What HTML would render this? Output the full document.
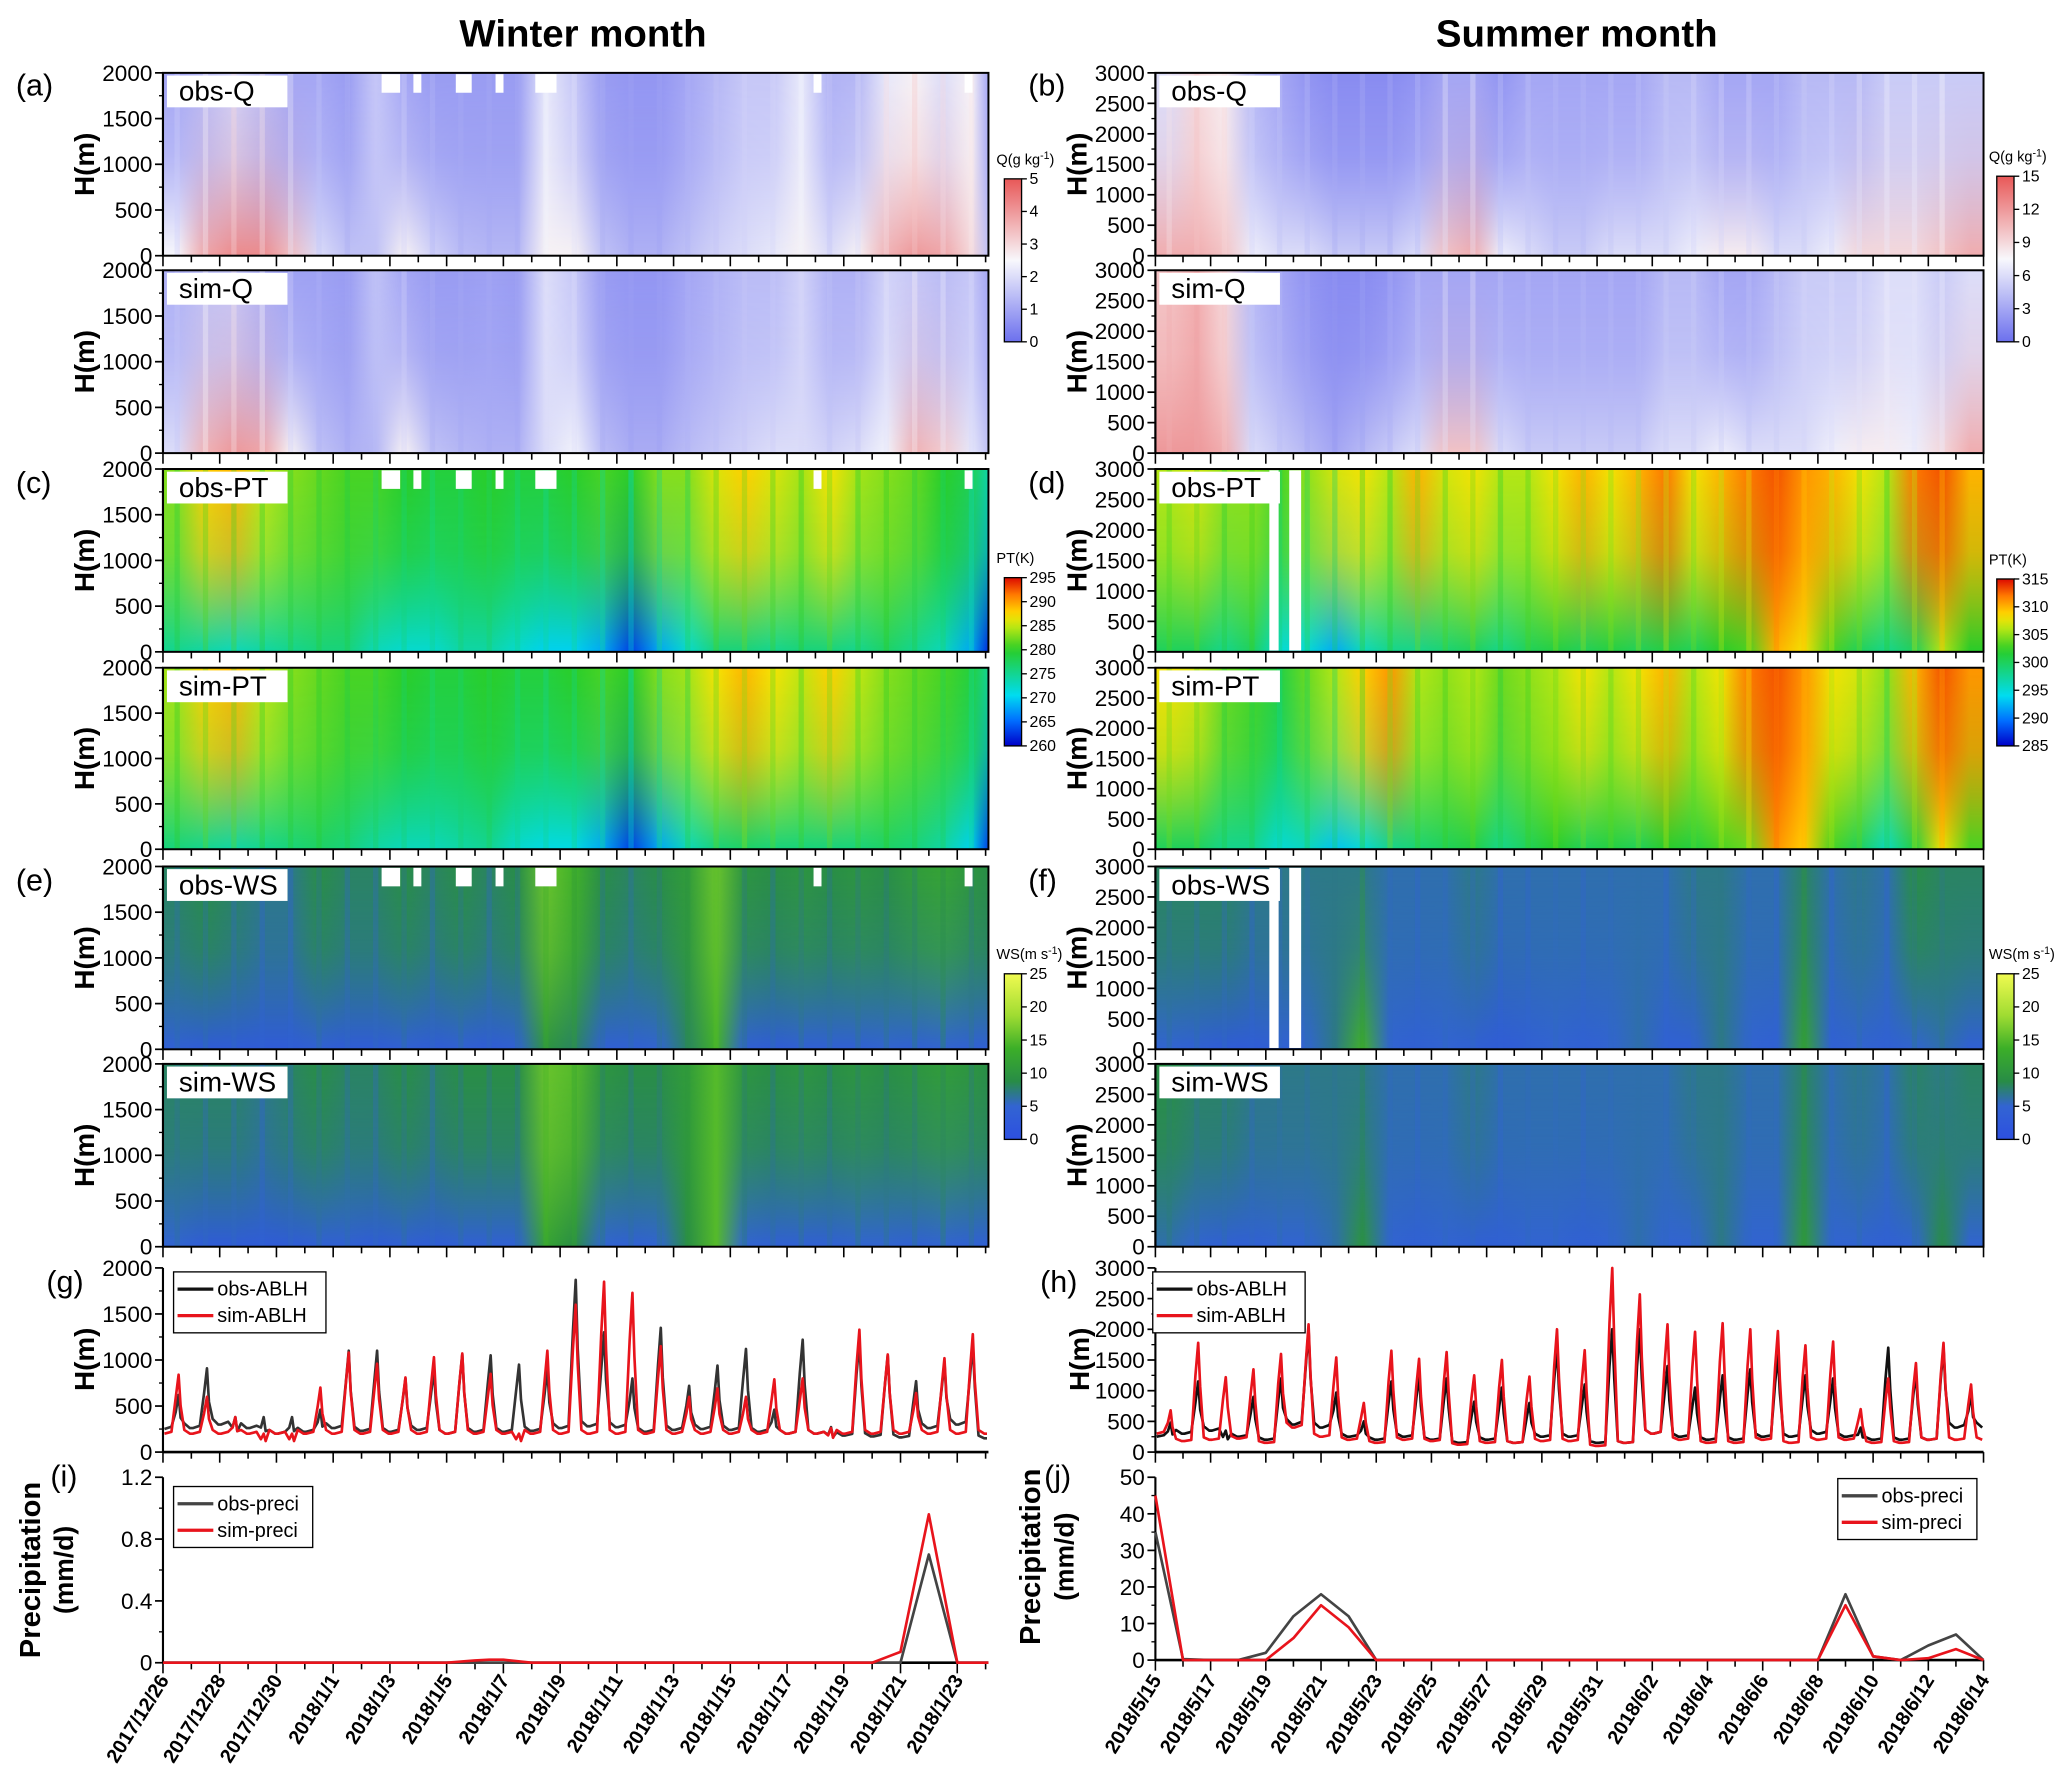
<!DOCTYPE html>
<html><head><meta charset="utf-8"><style>
html,body{margin:0;padding:0;background:#fff}
svg{display:block}
text{font-family:"Liberation Sans",sans-serif}
</style></head><body>
<svg id="fig" width="2067" height="1778" viewBox="0 0 1560 1342" preserveAspectRatio="none" xmlns="http://www.w3.org/2000/svg">
<defs id="defs"></defs>
<text x="440" y="35" text-anchor="middle" font-size="29" font-weight="bold">Winter month</text>
<text x="1190" y="35" text-anchor="middle" font-size="29" font-weight="bold">Summer month</text>
<g id="root"></g>
</svg>
<script>
// ---------- data ----------
const winterDateLabels = ["2017/12/26","2017/12/28","2017/12/30","2018/1/1","2018/1/3","2018/1/5","2018/1/7","2018/1/9","2018/1/11","2018/1/13","2018/1/15","2018/1/17","2018/1/19","2018/1/21","2018/1/23"];
const summerDateLabels = ["2018/5/15","2018/5/17","2018/5/19","2018/5/21","2018/5/23","2018/5/25","2018/5/27","2018/5/29","2018/5/31","2018/6/2","2018/6/4","2018/6/6","2018/6/8","2018/6/10","2018/6/12","2018/6/14"];
// heatmap column values per day (bottom / top of profile)
const wObsQBot=[2.5,3.8,4.2,4.2,3.4,2.0,1.5,1.5,2.6,1.8,1.4,1.3,1.3,2.6,2.6,1.5,1.2,1.2,1.5,1.8,2.0,2.2,2.6,2.0,2.6,3.6,4.0,3.8,3.0,1.5];
const wObsQTop=[1.0,1.4,1.8,1.4,1.0,1.0,0.8,1.6,1.0,0.8,0.8,0.8,0.8,2.2,1.6,0.8,0.7,0.7,1.0,1.3,1.6,1.6,2.2,1.2,1.3,2.2,2.6,2.0,2.6,1.0];
const wSimQBot=[2.0,3.6,4.0,3.8,2.6,1.5,1.2,1.3,2.6,1.5,1.3,1.2,1.2,2.0,2.4,1.4,1.1,1.1,1.4,1.6,1.8,2.0,2.0,1.8,2.0,2.4,3.6,3.2,2.2,1.5];
const wSimQTop=[1.2,1.5,1.6,1.2,0.9,0.9,0.8,1.5,1.0,0.8,0.8,0.9,0.8,2.0,1.6,0.8,0.7,0.7,1.0,1.2,1.4,1.4,1.8,1.2,1.2,1.8,1.6,1.4,1.6,1.0];
const sObsQBot=[11,11,10,7,6,6,5,5,5,6,10,11,7,6,5,5,6,6,6,7,8,8,6,6,7,9,9,9,10,11];
const sObsQTop=[6,9,8,4,3,2,1.5,1.5,1.5,2,3,3,2,3,3,3,3,3,4,4,3,3,3,4,4,4,5,5,5,5];
const sSimQBot=[12,12,11,6,5,4,3,4,5,6,10,10,6,5,5,5,5,5,6,6,7,6,6,6,7,8,8,7,9,11];
const sSimQTop=[10,11,9,4,3,2,1.5,1.5,2,3,3,3,3,3,3,3,3,3,4,4,3,3,4,5,5,5,6,6,5,6];
const wObsPTBot=[275,274,273,274,275,276,276,273,272,272,274,274,272,270,270,268,263,268,272,276,276,275,276,276,275,277,275,273,268,262];
const wObsPTTop=[283,288,289,285,283,282,281,281,280,279,279,280,279,279,280,281,280,283,283,286,288,286,284,287,284,283,282,280,278,274];
const wSimPTBot=[276,275,274,275,276,277,276,274,273,273,274,275,272,271,271,268,263,268,273,276,277,276,276,276,276,277,276,274,270,263];
const wSimPTTop=[284,288,289,285,283,282,281,281,280,279,279,280,279,279,280,281,280,283,284,287,289,287,285,288,285,283,282,281,279,275];
const sObsPTBot=[300,300,298,300,295,295,292,296,298,298,299,300,298,300,301,300,301,300,301,300,302,303,310,308,303,300,298,300,306,302];
const sObsPTTop=[306,307,305,305,303,305,307,308,306,310,307,308,306,306,308,310,308,310,312,308,310,312,313,311,310,308,306,312,313,310];
const sSimPTBot=[300,300,298,298,295,296,293,295,298,299,300,301,298,300,302,300,301,300,302,301,303,304,311,309,303,300,296,301,308,303];
const sSimPTTop=[308,307,304,303,301,304,306,309,311,306,305,306,304,305,306,308,306,308,310,306,308,312,313,311,308,307,305,310,313,311];
const wObsWSBot=[4,3,3,3,3,4,3,3,4,3,4,3,4,10,8,4,4,5,8,14,4,3,4,4,4,5,4,5,4,4];
const wObsWSTop=[8,9,8,7,7,9,8,8,9,8,9,8,9,16,14,9,8,9,11,16,10,9,10,9,10,9,11,12,10,9];
const wSimWSBot=[5,3,3,3,3,4,4,3,4,3,4,4,4,12,9,5,4,5,9,15,5,4,4,4,5,5,4,5,4,4];
const wSimWSTop=[8,8,8,7,8,9,8,8,9,8,9,9,9,16,15,10,9,9,11,15,10,9,10,9,10,9,10,11,10,9];
const sObsWSBot=[5,4,3,3,4,5,7,14,5,4,5,4,3,4,5,4,5,6,4,4,7,5,4,12,4,5,4,5,6,4];
const sObsWSTop=[8,8,8,7,7,7,7,7,6,6,6,7,6,6,6,6,6,6,6,7,7,6,6,8,6,7,6,9,8,8];
const sSimWSBot=[6,5,4,4,5,5,6,10,5,4,5,4,4,5,5,4,5,6,5,5,7,5,5,11,5,5,4,5,9,5];
const sSimWSTop=[9,8,8,7,7,7,7,7,6,6,6,7,6,6,6,6,6,6,6,7,7,6,6,8,6,7,6,8,7,8];
// ABLH daily peaks
const wObsPeak=[620,910,380,380,380,460,1100,1100,800,900,1060,1050,950,900,1870,1300,800,1350,720,940,1120,460,1220,270,1200,1050,770,980,1180,760];
const wSimPeak=[840,600,380,200,200,700,1080,960,810,1030,1070,850,200,1100,1600,1850,1730,1150,600,690,600,790,800,260,1330,1060,640,1020,1280,600];
const wObsBase=[250,260,300,260,200,220,260,230,220,240,200,220,220,230,260,280,270,220,240,250,240,220,200,200,180,170,160,260,300,150];
const wSimBase=[200,200,200,200,200,200,200,200,200,200,200,200,200,200,200,200,200,200,200,200,200,200,200,200,200,200,200,200,200,200];
const sObsPeak=[480,1150,350,900,1200,2000,970,500,1150,1250,1200,820,1050,800,1700,1100,2000,2000,1400,1050,1250,1350,1600,1250,1200,400,1700,1300,1700,950];
const sSimPeak=[680,1780,1220,1350,1600,2080,1540,800,1650,1520,1630,1250,1500,1230,2000,1660,3000,2570,2080,1960,2100,2000,1970,1740,1800,700,1200,1450,1780,1100];
const sObsBase=[250,300,350,250,200,450,400,250,200,250,200,150,200,150,250,250,150,150,300,250,200,200,250,250,300,250,200,200,200,400];
const sSimBase=[300,180,200,220,150,400,250,200,150,200,180,120,150,150,180,180,100,150,300,200,150,150,200,150,200,200,150,150,200,200];
// precipitation daily
const wPrecDays=[0,10,11,11.5,12,13,25,26,27,28,29.1];
const wObsPrec=[0,0,0,0,0,0,0,0,0.7,0,0];
const wSimPrec=[0,0,0.015,0.02,0.02,0,0,0.07,0.96,0,0];
const sPrecDays=[0,1,2,3,4,5,6,7,8,9,10,11,12,13,14,15,16,17,18,19,20,21,22,23,24,25,26,27,28,29,30];
const sObsPrec=[35,0.3,0,0,2,12,18,12,0,0,0,0,0,0,0,0,0,0,0,0,0,0,0,0,0,18,1,0,4,7,0];
const sSimPrec=[45,0,0,0,0,6,15,9,0,0,0,0,0,0,0,0,0,0,0,0,0,0,0,0,0,15,1,0,0.5,3,0];

// ---------- helpers ----------
const NS="http://www.w3.org/2000/svg";
const root=document.getElementById('root');
const defs=document.getElementById('defs');
function mk(tag,attrs,parent){const e=document.createElementNS(NS,tag);for(const k in attrs)e.setAttribute(k,attrs[k]);(parent||root).appendChild(e);return e;}
function txt(s,attrs,parent){const e=mk('text',attrs,parent);e.textContent=s;return e;}
function lerpStops(stops,t){t=Math.max(0,Math.min(1,t));for(let i=1;i<stops.length;i++){if(t<=stops[i][0]){const a=stops[i-1],b=stops[i];const f=(t-a[0])/(b[0]-a[0]||1);return 'rgb('+[1,2,3].map(k=>Math.round(a[k]+(b[k]-a[k])*f)).join(',')+')';}}const l=stops[stops.length-1];return 'rgb('+l[1]+','+l[2]+','+l[3]+')';}
const cmQ=[[0,108,112,238],[0.5,248,248,252],[1,232,88,88]];
const cmPT=[[0,0,0,200],[0.15,0,110,255],[0.3,0,220,240],[0.57,40,205,40],[0.7,180,230,20],[0.78,255,225,0],[0.9,255,120,0],[1,220,10,0]];
const cmWS=[[0,45,80,225],[0.2,50,100,210],[0.35,40,140,70],[0.55,60,175,40],[0.75,160,220,50],[1,240,250,80]];
let gid=0;

const L={x0:123,x1:746,days:29.1}, R={x0:872,x1:1497,days:30};
function xs(col,d){return col.x0+(col.x1-col.x0)*d/col.days;}

// yb = bottom pixel, yt = top pixel
function yAxis(col,yb,yt,ticks,labels,minorN,name){
  mk('line',{x1:col.x0,y1:yb,x2:col.x0,y2:yt,stroke:'#000','stroke-width':1.6});
  const n=ticks.length-1;
  ticks.forEach((v,i)=>{const y=yb+(yt-yb)*i/n;
    mk('line',{x1:col.x0-6,y1:y,x2:col.x0,y2:y,stroke:'#000','stroke-width':1.3});
    const t=txt(labels[i],{x:col.x0-8,y:y+6,'text-anchor':'end','font-size':17});
    
    if(i<n){for(let m=1;m<minorN;m++){const ym=y+(yt-yb)/n*m/minorN;mk('line',{x1:col.x0-3,y1:ym,x2:col.x0,y2:ym,stroke:'#000','stroke-width':1});}}
  });
}
function xTicks(col,y,n){for(let d=0;d<=n;d++){const x=xs(col,d);if(x>col.x1+0.5)break;mk('line',{x1:x,y1:y,x2:x,y2:y+(d%2==0?8:5),stroke:'#000','stroke-width':1.2});}}

function heat(col,y0,y1,bot,top,cm,vmin,vmax,name,label,yTicks,yLabels){
  const g=mk('g',{});
  const w=(col.x1-col.x0);const n=bot.length;
  const idB='g'+(gid++), idT='g'+(gid++), idM='m'+(gid++);
  const lgB=mk('linearGradient',{id:idB,x1:0,y1:0,x2:1,y2:0},defs);
  const lgT=mk('linearGradient',{id:idT,x1:0,y1:0,x2:1,y2:0},defs);
  for(let i=0;i<n;i++){
    mk('stop',{offset:Math.min(1,(i+0.5)/col.days),'stop-color':lerpStops(cm,(bot[i]-vmin)/(vmax-vmin))},lgB);
    mk('stop',{offset:Math.min(1,(i+0.5)/col.days),'stop-color':lerpStops(cm,(top[i]-vmin)/(vmax-vmin))},lgT);}
  const mask=mk('linearGradient',{id:idM+'g',x1:0,y1:0,x2:0,y2:1},defs);
  mk('stop',{offset:0,'stop-color':'#fff'},mask);mk('stop',{offset:0.45,'stop-color':'#fff','stop-opacity':0.8},mask);mk('stop',{offset:1,'stop-color':'#000'},mask);
  const m=mk('mask',{id:idM,maskContentUnits:'objectBoundingBox'},defs);
  mk('rect',{x:0,y:0,width:1,height:1,fill:'url(#'+idM+'g)'},m);
  mk('rect',{x:col.x0,y:y0,width:w,height:y1-y0,fill:'url(#'+idB+')'},g);
  mk('rect',{x:col.x0,y:y0,width:w,height:y1-y0,fill:'url(#'+idT+')',mask:'url(#'+idM+')'},g);
  for(let i=0;i<n-1;i++){const x=xs(col,i+0.5);const c=lerpStops(cm,((top[i]+bot[i])/2-vmin)/(vmax-vmin));
    mk('rect',{x:x-2,y:y0,width:4,height:y1-y0,fill:c,opacity:0.35},g);}
  mk('rect',{x:col.x0,y:y0,width:w,height:y1-y0,fill:'none',stroke:'#000','stroke-width':1.5},g);
  const lb=mk('rect',{x:col.x0+3,y:y0+2,width:91,height:24,fill:'#fff'});
  
  const t=txt(label,{x:col.x0+12,y:y0+21,'font-size':21});
  
  yAxis(col,y1,y0,yTicks,yLabels,2,name+'-y');
  xTicks(col,y1,30);
  const yl=txt('H(m)',{x:0,y:0,'font-size':21,'font-weight':'bold','text-anchor':'middle',transform:'translate('+(col.x0-52)+','+((y0+y1)/2)+') rotate(-90)'});
  
}
function colorbar(x,y0,y1,cm,vals,title,name){
  const id='cb'+(gid++);const lg=mk('linearGradient',{id:id,x1:0,y1:1,x2:0,y2:0},defs);
  for(let i=0;i<=20;i++)mk('stop',{offset:i/20,'stop-color':lerpStops(cm,i/20)},lg);
  const r=mk('rect',{x:x,y:y0,width:13,height:y1-y0,fill:'url(#'+id+')',stroke:'#000','stroke-width':1});
  
  vals.forEach((v,i)=>{const y=y1-(y1-y0)*i/(vals.length-1);mk('line',{x1:x+13,y1:y,x2:x+17,y2:y,stroke:'#000'});
    const t=txt(v,{x:x+19,y:y+4,'font-size':12});});
  const tt=mk('text',{x:x-6,y:y0-11,'font-size':11});
  tt.innerHTML=title;
}
function panelLabel(s,x,y){const t=txt(s,{x:x,y:y,'font-size':23});}

// ---------- heatmaps ----------
const hW=[0,1,2,3,4], hWL=['0','500','1000','1500','2000'];
const hS=[0,1,2,3,4,5,6], hSL=['0','500','1000','1500','2000','2500','3000'];
const rows=[[55,193],[204,342],[354,492],[504,641],[654,792],[803,941]];
heat(L,rows[0][0],rows[0][1],wObsQBot,wObsQTop,cmQ,0,5,'heatmap-winter-obs-q','obs-Q',hW,hWL);
heat(L,rows[1][0],rows[1][1],wSimQBot,wSimQTop,cmQ,0,5,'heatmap-winter-sim-q','sim-Q',hW,hWL);
heat(L,rows[2][0],rows[2][1],wObsPTBot,wObsPTTop,cmPT,260,295,'heatmap-winter-obs-pt','obs-PT',hW,hWL);
heat(L,rows[3][0],rows[3][1],wSimPTBot,wSimPTTop,cmPT,260,295,'heatmap-winter-sim-pt','sim-PT',hW,hWL);
heat(L,rows[4][0],rows[4][1],wObsWSBot,wObsWSTop,cmWS,0,25,'heatmap-winter-obs-ws','obs-WS',hW,hWL);
heat(L,rows[5][0],rows[5][1],wSimWSBot,wSimWSTop,cmWS,0,25,'heatmap-winter-sim-ws','sim-WS',hW,hWL);
heat(R,rows[0][0],rows[0][1],sObsQBot,sObsQTop,cmQ,0,15,'heatmap-summer-obs-q','obs-Q',hS,hSL);
heat(R,rows[1][0],rows[1][1],sSimQBot,sSimQTop,cmQ,0,15,'heatmap-summer-sim-q','sim-Q',hS,hSL);
heat(R,rows[2][0],rows[2][1],sObsPTBot,sObsPTTop,cmPT,285,315,'heatmap-summer-obs-pt','obs-PT',hS,hSL);
heat(R,rows[3][0],rows[3][1],sSimPTBot,sSimPTTop,cmPT,285,315,'heatmap-summer-sim-pt','sim-PT',hS,hSL);
heat(R,rows[4][0],rows[4][1],sObsWSBot,sObsWSTop,cmWS,0,25,'heatmap-summer-obs-ws','obs-WS',hS,hSL);
heat(R,rows[5][0],rows[5][1],sSimWSBot,sSimWSTop,cmWS,0,25,'heatmap-summer-sim-ws','sim-WS',hS,hSL);
[[2,5],[4,5]].forEach(p=>{const r=rows[p[0]];[[958,965],[973,982]].forEach(b=>{const g=mk('rect',{x:b[0],y:r[0]+1,width:b[1]-b[0],height:r[1]-r[0]-2,fill:'#fff'});});});
[0,2,4].forEach(ri=>{const r=rows[ri];[[288,302],[312,318],[344,356],[374,380],[404,420],[614,620],[728,734]].forEach(b=>{const e=mk('rect',{x:b[0],y:r[0]+1,width:b[1]-b[0],height:14,fill:'#fff'});});});

colorbar(758,135,258,cmQ,['0','1','2','3','4','5'],'Q(g kg<tspan dy="-4" font-size="8">-1</tspan><tspan dy="4">)</tspan>','colorbar-winter-q');
colorbar(1507,133,258,cmQ,['0','3','6','9','12','15'],'Q(g kg<tspan dy="-4" font-size="8">-1</tspan><tspan dy="4">)</tspan>','colorbar-summer-q');
colorbar(758,436,563,cmPT,['260','265','270','275','280','285','290','295'],'PT(K)','colorbar-winter-pt');
colorbar(1507,437,563,cmPT,['285','290','295','300','305','310','315'],'PT(K)','colorbar-summer-pt');
colorbar(758,735,860,cmWS,['0','5','10','15','20','25'],'WS(m s<tspan dy="-4" font-size="8">-1</tspan><tspan dy="4">)</tspan>','colorbar-winter-ws');
colorbar(1507,735,860,cmWS,['0','5','10','15','20','25'],'WS(m s<tspan dy="-4" font-size="8">-1</tspan><tspan dy="4">)</tspan>','colorbar-summer-ws');

panelLabel('(a)',12,72);panelLabel('(b)',776,72);panelLabel('(c)',12,372);panelLabel('(d)',776,372);
panelLabel('(e)',12,672);panelLabel('(f)',776,672);panelLabel('(g)',35,975);panelLabel('(h)',785,975);
panelLabel('(i)',38,1122);panelLabel('(j)',788,1122);

// ---------- ABLH ----------
function ablhPts(col,peaks,bases,y0,y1,vmax){
  const pts=[];const yv=v=>y1-(y1-y0)*v/vmax;
  for(let d=0;d<peaks.length;d++){
    const nb=d+1<bases.length?bases[d+1]:bases[d];
    [[d+0.05,bases[d]],[d+0.3,bases[d]*1.1],[d+0.45,peaks[d]*0.7],[d+0.55,peaks[d]],[d+0.62,peaks[d]*0.6],[d+0.75,nb*1.2],[d+0.95,nb]].forEach(p=>{if(p[0]<=col.days)pts.push(xs(col,p[0]).toFixed(1)+','+yv(p[1]).toFixed(1));});
  }return pts.join(' ');
}
function lineChart(col,y0,y1,vmax,ticks,labels,series,name,minorN){
  mk('line',{x1:col.x0,y1:y1,x2:col.x1,y2:y1,stroke:'#000','stroke-width':2});
  yAxis(col,y1,y0,ticks,labels,minorN,name+'-y');
  xTicks(col,y1,30);
  series.forEach(s=>{const p=mk('polyline',{points:s.pts,fill:'none',stroke:s.c,'stroke-width':2,'stroke-linejoin':'round'});});
}
lineChart(L,957,1096,2000,[0,1,2,3,4],['0','500','1000','1500','2000'],[
 {pts:ablhPts(L,wObsPeak,wObsBase,957,1096,2000),c:'#333',n:'winter-obs-ablh-line'},
 {pts:ablhPts(L,wSimPeak,wSimBase,957,1096,2000),c:'#e8141c',n:'winter-sim-ablh-line'}],'winter-ablh',2);
lineChart(R,957,1096,3000,[0,1,2,3,4,5,6],['0','500','1000','1500','2000','2500','3000'],[
 {pts:ablhPts(R,sObsPeak,sObsBase,957,1096,3000),c:'#111',n:'summer-obs-ablh-line'},
 {pts:ablhPts(R,sSimPeak,sSimBase,957,1096,3000),c:'#e8141c',n:'summer-sim-ablh-line'}],'summer-ablh',2);
[L,R].forEach((col,ci)=>{const t=txt('H(m)',{x:0,y:0,'font-size':21,'font-weight':'bold','text-anchor':'middle',transform:'translate('+(col.x0-(ci?50:52))+',1026) rotate(-90)'});});

function legend(x,y,w,items,name){
  const g=mk('g',{});
  mk('rect',{x:x,y:y,width:w,height:items.length*20+6,fill:'#fff',stroke:'#000','stroke-width':1},g);
  items.forEach((it,i)=>{const yy=y+13+i*20;
    mk('line',{x1:x+3,y1:yy,x2:x+30,y2:yy,stroke:it[1],'stroke-width':2.5},g);
    const t=txt(it[0],{x:x+33,y:yy+5,'font-size':15},g);});
}
legend(131,960,115,[['obs-ABLH','#111'],['sim-ABLH','#e8141c']],'legend-winter-ablh');
legend(870,960,115,[['obs-ABLH','#111'],['sim-ABLH','#e8141c']],'legend-summer-ablh');

// ---------- precipitation ----------
function precPts(col,days,vals,y0,y1,vmax){return days.map((d,i)=>xs(col,d).toFixed(1)+','+(y1-(y1-y0)*vals[i]/vmax).toFixed(1)).join(' ');}
lineChart(L,1115,1255,1.2,[0,1,2,3],['0','0.4','0.8','1.2'],[
 {pts:precPts(L,wPrecDays,wObsPrec,1115,1255,1.2),c:'#444',n:'winter-obs-precip-line'},
 {pts:precPts(L,wPrecDays,wSimPrec,1115,1255,1.2),c:'#e8141c',n:'winter-sim-precip-line'}],'winter-precip',2);
lineChart(R,1115,1253,50,[0,1,2,3,4,5],['0','10','20','30','40','50'],[
 {pts:precPts(R,sPrecDays,sObsPrec,1115,1253,50),c:'#444',n:'summer-obs-precip-line'},
 {pts:precPts(R,sPrecDays,sSimPrec,1115,1253,50),c:'#e8141c',n:'summer-sim-precip-line'}],'summer-precip',2);
legend(131,1122,105,[['obs-preci','#444'],['sim-preci','#e8141c']],'legend-winter-precip');
legend(1387,1116,105,[['obs-preci','#444'],['sim-preci','#e8141c']],'legend-summer-precip');
[[30,55,1185],[785,810,1175]].forEach(p=>{
  const a=txt('Precipitation',{x:0,y:0,'font-size':22,'font-weight':'bold','text-anchor':'middle',transform:'translate('+p[0]+','+p[2]+') rotate(-90)'});
  const b=txt('(mm/d)',{x:0,y:0,'font-size':20,'font-weight':'bold','text-anchor':'middle',transform:'translate('+p[1]+','+p[2]+') rotate(-90)'});
});
function dates(col,labels){labels.forEach((s,i)=>{const x=xs(col,i*2);
  const t=txt(s,{x:0,y:0,'font-size':15,'font-weight':'bold','text-anchor':'end',transform:'translate('+(x+5)+',1268) rotate(-58)'});
  });}
dates(L,winterDateLabels);dates(R,summerDateLabels);
</script>
</body></html>
